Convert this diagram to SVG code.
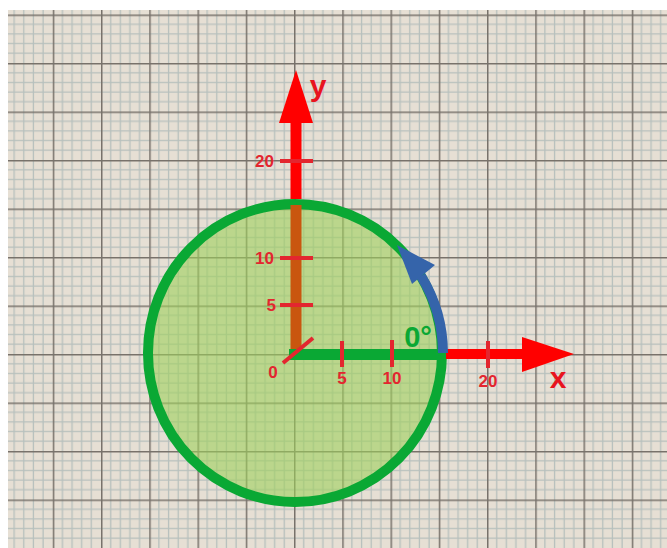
<svg xmlns="http://www.w3.org/2000/svg" width="667" height="548" viewBox="0 0 667 548">
<defs>
<pattern id="grid" patternUnits="userSpaceOnUse" x="4.5" y="14.5" width="48.25" height="48.5">
<rect width="48.25" height="48.5" fill="#e6dfd4"/>
<g stroke="#b7c0bd" stroke-width="1.3">
<line x1="9.65" y1="0" x2="9.65" y2="48.5"/>
<line x1="19.3" y1="0" x2="19.3" y2="48.5"/>
<line x1="28.95" y1="0" x2="28.95" y2="48.5"/>
<line x1="38.6" y1="0" x2="38.6" y2="48.5"/>
<line x1="0" y1="9.7" x2="48.25" y2="9.7"/>
<line x1="0" y1="19.4" x2="48.25" y2="19.4"/>
<line x1="0" y1="29.1" x2="48.25" y2="29.1"/>
<line x1="0" y1="38.8" x2="48.25" y2="38.8"/>
</g>
<g stroke="#78726b" stroke-width="3">
<line x1="0" y1="0" x2="0" y2="48.5"/>
<line x1="0" y1="0" x2="48.25" y2="0"/>
</g>
</pattern>
<style>
.tick{stroke:#e3262f;stroke-width:4;stroke-linecap:butt}
.lbl{font-family:"Liberation Sans","DejaVu Sans",sans-serif;font-weight:bold;fill:#e3262f;font-size:17px}
.axl{font-family:"Liberation Sans","DejaVu Sans",sans-serif;font-weight:bold;fill:#e8141e;font-size:30px}
</style>
</defs>
<rect width="667" height="548" fill="#ffffff"/>
<rect x="8" y="10" width="659" height="538" fill="url(#grid)"/>
<g id="circle">
<ellipse cx="295" cy="353" rx="147" ry="149" fill="#9fd05c" fill-opacity="0.6" stroke="#0aa834" stroke-width="10"/>
</g>
<g id="connectors">
<line x1="296" y1="205" x2="296" y2="360" stroke="#c9560f" stroke-width="11"/>
<line x1="296" y1="118" x2="296" y2="199" stroke="#ff0000" stroke-width="11"/>
<polygon points="296,70 313,123 279,123" fill="#ff0000"/>
<line x1="289" y1="354.5" x2="443" y2="354.5" stroke="#0aa834" stroke-width="11"/>
<line x1="446" y1="354" x2="525" y2="354" stroke="#ff0000" stroke-width="10"/>
<polygon points="574,354 522,337 522,372" fill="#ff0000"/>
<line x1="283" y1="363" x2="313" y2="338" class="tick"/>
<path d="M 443 353 A 148 148 0 0 0 421 276" fill="none" stroke="#3564aa" stroke-width="10"/>
<polygon points="397,245 435,265 412,284" fill="#3564aa"/>
</g>
<g id="x-ticks">
<line x1="342" y1="341" x2="342" y2="367" class="tick"/>
<line x1="392" y1="340" x2="392" y2="367" class="tick"/>
<line x1="488" y1="341" x2="488" y2="368" class="tick"/>
<text class="lbl" x="342" y="384" text-anchor="middle">5</text>
<text class="lbl" x="392" y="384" text-anchor="middle">10</text>
<text class="lbl" x="488" y="387" text-anchor="middle">20</text>
<text class="lbl" x="273" y="378" text-anchor="middle">0</text>
</g>
<g id="y-ticks">
<line x1="280" y1="161" x2="313" y2="161" class="tick"/>
<line x1="280" y1="258" x2="313" y2="258" class="tick"/>
<line x1="280" y1="305" x2="313" y2="305" class="tick"/>
<text class="lbl" x="274" y="167" text-anchor="end">20</text>
<text class="lbl" x="274" y="264" text-anchor="end">10</text>
<text class="lbl" x="276" y="311" text-anchor="end">5</text>
</g>
<g id="labels">
<text class="axl" x="318" y="96" text-anchor="middle">y</text>
<text class="axl" x="558" y="388" text-anchor="middle">x</text>
<text x="418" y="347" text-anchor="middle" font-family="Liberation Sans, DejaVu Sans, sans-serif" font-weight="bold" font-size="29" fill="#0aa834">0°</text>
</g>
</svg>
